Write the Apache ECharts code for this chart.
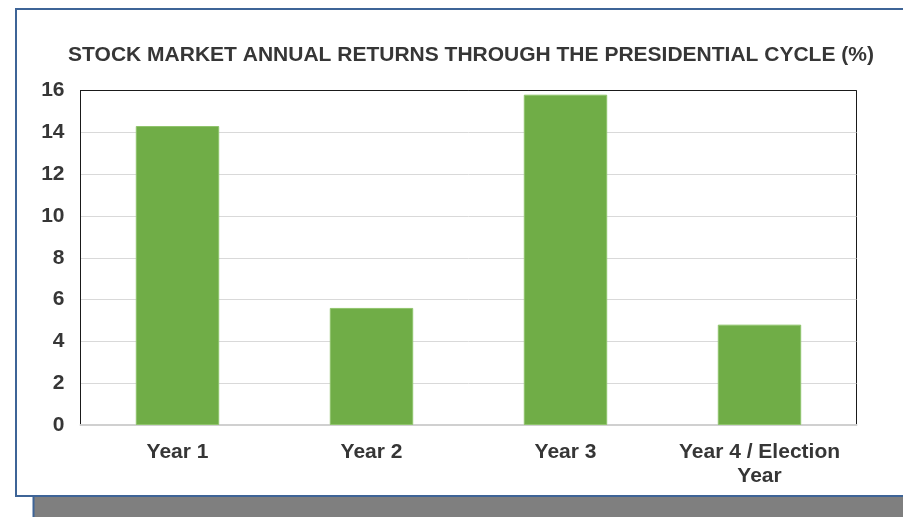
<!DOCTYPE html>
<html>
<head>
<meta charset="utf-8">
<script src="https://cdn.jsdelivr.net/npm/echarts@6/dist/echarts.min.js"></script>
<style>
html,body{margin:0;padding:0;background:#fff;}
#chart{width:903px;height:517px;}
</style>
</head>
<body>
<div id="chart"></div>
<script>
var titleText = 'STOCK MARKET ANNUAL RETURNS THROUGH THE PRESIDENTIAL CYCLE (%)';
var categories = ['Year 1', 'Year 2', 'Year 3', 'Year 4 / Election\nYear'];
var returns = [14.3, 5.6, 15.8, 4.8];
var yMin = 0, yMax = 16, yStep = 2;

var FONT = '"Liberation Sans", Arial, Helvetica, sans-serif';
var gridColors = ['#d9d9d9','#d9d9d9','#d9d9d9','#d9d9d9','#d9d9d9','#d9d9d9','#d9d9d9','#d9d9d9','#1a1a1a'];
var chart = echarts.init(document.getElementById('chart'), null, {renderer: 'canvas'});
chart.setOption({
  backgroundColor: '#ffffff',
  animation: false,
  graphic: [
    {type: 'rect', z: -10, silent: true, shape: {x: 33.5, y: 30, width: 900, height: 500},
     style: {fill: '#7f7f7f', stroke: '#3e6497', lineWidth: 2}},
    {type: 'rect', z: -9, silent: true, shape: {x: 16, y: 9, width: 900, height: 487},
     style: {fill: '#ffffff', stroke: '#3e6497', lineWidth: 2}}
  ],
  title: {
    text: titleText,
    left: 466, top: 40, textAlign: 'center',
    textStyle: {fontFamily: FONT, fontWeight: 'bold', fontSize: 21, color: '#363636'}
  },
  grid: {left: 80.5, top: 90.5, right: 46.5, bottom: 92, show: true, borderColor: '#1a1a1a', borderWidth: 1, backgroundColor: 'transparent'},
  xAxis: {
    type: 'category',
    data: categories,
    axisLine: {show: true, lineStyle: {color: '#d0d0d0', width: 2}},
    axisTick: {show: false},
    axisLabel: {fontFamily: FONT, fontWeight: 'bold', fontSize: 21, color: '#363636', margin: 15, lineHeight: 24, interval: 0}
  },
  yAxis: {
    type: 'value',
    min: yMin, max: yMax, interval: yStep,
    axisLine: {show: true, lineStyle: {color: '#1a1a1a', width: 1}},
    axisTick: {show: false},
    splitLine: {show: true, lineStyle: {color: gridColors, width: 1}},
    axisLabel: {fontFamily: FONT, fontWeight: 'bold', fontSize: 21, color: '#363636', margin: 16}
  },
  series: [{
    type: 'bar',
    data: returns,
    barWidth: '43%',
    itemStyle: {color: '#70ad47', borderColor: '#8fc46c', borderWidth: 1}
  }]
});
</script>
</body>
</html>
